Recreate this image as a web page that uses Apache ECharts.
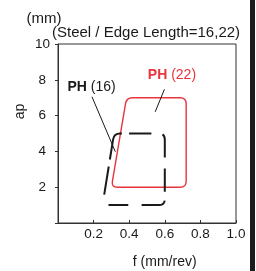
<!DOCTYPE html>
<html><head><meta charset="utf-8">
<script src="https://cdn.jsdelivr.net/npm/echarts@6/dist/echarts.min.js"></script>
<style>html,body{margin:0;padding:0;background:#fff}#c{width:256px;height:271px}</style>
</head><body><div id="c"></div>
<script>
// ---- data ----
const xTicks = [0.2, 0.4, 0.6, 0.8, 1.0];
const yTicks = [2, 4, 6, 8, 10];
const ph22X = [0.30, 0.385, 0.72, 0.72];
const ph22Y = [2, 7, 7, 2];
const ph16X = [0.25, 0.315, 0.60, 0.60];
const ph16Y = [1, 5, 5, 1];
const labelNames = ['16', '22'];
const labelX = [0.189, 0.64];
const labelY = [7.61, 8.27];
const leader16X = [0.191, 0.322];
const leader16Y = [7.05, 3.98];
const leader22X = [0.598, 0.546];
const leader22Y = [7.47, 6.21];

const FONT = "'Liberation Sans', Arial, sans-serif";
const RED = '#e8343b';
const INK = '#1a1a1a';
// irregular dash pattern of the PH(16) outline (starts at bottom edge, runs up the left side)
const DASH16 = [0, 13.7, 28.4, 7.1, 32.1, 7.2, 22.3, 11, 23.8, 11, 23.3, 8.6, 25.5, 13.3, 21.7, 10];

function roundedPath(pts, r) {
  const n = pts.length; let d = '';
  for (let i = 0; i < n; i++) {
    const p = pts[i], prev = pts[(i - 1 + n) % n], next = pts[(i + 1) % n];
    const v1 = [prev[0] - p[0], prev[1] - p[1]], l1 = Math.hypot(v1[0], v1[1]);
    const v2 = [next[0] - p[0], next[1] - p[1]], l2 = Math.hypot(v2[0], v2[1]);
    const a = [p[0] + v1[0] / l1 * r, p[1] + v1[1] / l1 * r];
    const b = [p[0] + v2[0] / l2 * r, p[1] + v2[1] / l2 * r];
    d += (i === 0 ? 'M' : 'L') + a[0] + ' ' + a[1] + ' Q' + p[0] + ' ' + p[1] + ' ' + b[0] + ' ' + b[1] + ' ';
  }
  return d + 'Z';
}
function polySeries(name, xs, ys, style) {
  return {
    type: 'custom', name: name, coordinateSystem: 'cartesian2d', silent: true,
    data: [[xs[0], ys[0]]],
    renderItem: function (params, api) {
      const pts = xs.map((x, i) => api.coord([x, ys[i]]));
      return { type: 'path', shape: { pathData: roundedPath(pts, 6) }, style: Object.assign({ fill: 'none' }, style) };
    }
  };
}
function leader(xs, ys) {
  return {
    type: 'line', silent: true, symbol: 'none', animation: false,
    data: xs.map((x, i) => [x, ys[i]]),
    lineStyle: { color: INK, width: 1 }
  };
}
const labelColors = [INK, RED];

const chart = echarts.init(document.getElementById('c'), null, { renderer: 'canvas' });
chart.setOption({
  animation: false,
  backgroundColor: '#fff',
  textStyle: { fontFamily: FONT },
  title: {
    text: '(Steel / Edge Length=16,22)', left: 52, top: 25, padding: 0,
    textStyle: { fontFamily: FONT, fontSize: 15, fontWeight: 'normal', color: INK }
  },
  grid: { left: 58, right: 20, top: 44, bottom: 48, show: true, borderColor: '#333', borderWidth: 1 },
  xAxis: {
    type: 'value', min: 0, max: 1, interval: 0.2,
    axisLine: { lineStyle: { color: '#333' } },
    axisTick: { inside: true, length: 3, lineStyle: { color: '#333' } },
    splitLine: { show: false },
    axisLabel: {
      margin: 4, fontSize: 13.5, color: INK, fontFamily: FONT,
      formatter: v => { const t = xTicks.find(k => Math.abs(k - v) < 1e-6); return t === undefined ? '' : t.toFixed(1); }
    }
  },
  yAxis: {
    type: 'value', min: 0, max: 10, interval: 2,
    axisLine: { lineStyle: { color: '#333' } },
    axisTick: { inside: false, length: 3, lineStyle: { color: '#333' } },
    splitLine: { show: false },
    axisLabel: {
      margin: 8, fontSize: 13.5, color: INK, fontFamily: FONT,
      formatter: v => yTicks.includes(v) ? (v === 10 ? '{t|10}' : '{d|' + v + '}') : '',
      rich: { t: { fontSize: 13.5, fontFamily: FONT, color: INK }, d: { fontSize: 13.5, fontFamily: FONT, color: INK, padding: [0, 4, 0, 0] } }
    }
  },
  graphic: [
    { type: 'text', x: 26.5, y: 19, style: { text: '(mm)', font: '15px ' + FONT, fill: INK, verticalAlign: 'middle', align: 'left' } },
    { type: 'text', x: 20.5, y: 111.5, rotation: Math.PI / 2, style: { text: 'ap', font: '14px ' + FONT, fill: INK, verticalAlign: 'middle', align: 'center' } },
    { type: 'text', x: 164.7, y: 262, style: { text: 'f (mm/rev)', font: '14px ' + FONT, fill: INK, verticalAlign: 'middle', align: 'center' } },
    { type: 'rect', shape: { x: 250, y: 0, width: 5, height: 271 }, style: { fill: '#1c1c1c' } }
  ],
  series: [
    polySeries('PH (22)', ph22X, ph22Y, { stroke: RED, lineWidth: 1.4 }),
    polySeries('PH (16)', ph16X, ph16Y, { stroke: INK, lineWidth: 2, lineDash: DASH16, lineCap: 'butt' }),
    leader(leader16X, leader16Y),
    leader(leader22X, leader22Y),
    {
      type: 'custom', coordinateSystem: 'cartesian2d', silent: true,
      data: labelNames.map((n, i) => [labelX[i], labelY[i], i]),
      renderItem: function (params, api) {
        const i = params.dataIndex;
        const p = api.coord([api.value(0), api.value(1)]);
        const c = labelColors[i];
        return {
          type: 'text', x: p[0], y: p[1],
          style: {
            text: '{b|PH} {n|(' + labelNames[i] + ')}',
            align: 'center', verticalAlign: 'middle',
            rich: {
              b: { font: 'bold 14px ' + FONT, fill: c },
              n: { font: '14px ' + FONT, fill: c }
            },
            font: '14px ' + FONT, fill: c
          }
        };
      }
    }
  ]
});
</script></body></html>
